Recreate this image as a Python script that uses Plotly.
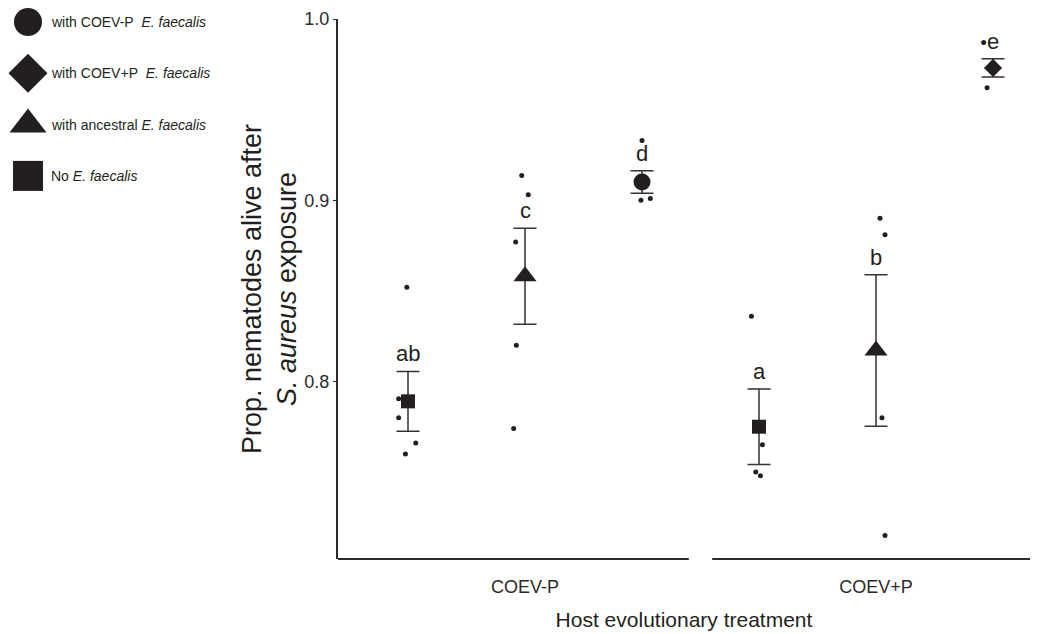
import plotly.graph_objects as go

# ---- data -----------------------------------------------------------------
HOSTS = ["COEV-P", "COEV+P"]
GROUP_HOST = ["COEV-P", "COEV-P", "COEV-P", "COEV+P", "COEV+P", "COEV+P"]
GROUP_PARTNER = ["none", "ancestral", "COEV-P", "none", "ancestral", "COEV+P"]
MEANS = [0.789, 0.858, 0.910, 0.775, 0.817, 0.973]
SES = [0.0165, 0.0265, 0.0062, 0.0208, 0.0418, 0.0050]
LETTERS = ["ab", "c", "d", "a", "b", "e"]
REPLICATES = [
    [0.852, 0.7905, 0.780, 0.766, 0.760],
    [0.9136, 0.903, 0.877, 0.820, 0.774],
    [0.933, 0.900, 0.901],
    [0.836, 0.765, 0.750, 0.748],
    [0.890, 0.881, 0.780, 0.715],
    [0.987, 0.962],
]
# horizontal jitter of the replicate dots (category units)
JITTER = [
    [-0.01, -0.08, -0.08, 0.066, -0.022],
    [-0.028, 0.028, -0.08, -0.074, -0.097],
    [0.0, -0.009, 0.071],
    [-0.065, 0.029, -0.028, 0.012],
    [0.034, 0.077, 0.051, 0.077],
    [-0.08, -0.051],
]
Y_TICKS = [0.8, 0.9, 1.0]
Y_TICK_TEXT = ["0.8", "0.9", "1.0"]

LEGEND_PARTNERS = ["COEV-P", "COEV+P", "ancestral", "none"]
LEGEND_LABELS = [
    "with COEV-P&nbsp; <i>E. faecalis</i>",
    "with COEV+P&nbsp; <i>E. faecalis</i>",
    "with ancestral <i>E. faecalis</i>",
    "No <i>E. faecalis</i>",
]

# ---- styles -----------------------------------------------------------------
INK = "#231f20"
AXIS = "#2b2b2b"
FONT = "Liberation Sans, Arial, Helvetica, sans-serif"
SYMBOL = {"none": "square", "ancestral": "triangle-up",
          "COEV-P": "circle", "COEV+P": "diamond"}
PLOT_SIZE = {"none": 14, "ancestral": 20, "COEV-P": 17, "COEV+P": 14}
LEGEND_SIZE = {"none": 30, "ancestral": 32, "COEV-P": 28, "COEV+P": 30}

W, H = 1051, 634
M_L, M_R, M_T, M_B = 0, 21, 0, 75
PW, PH = W - M_L - M_R, H - M_T - M_B
AX_LEFT_PX = 338
AX_TOP_PX = 19
X_RANGE = [0.4017, 6.316]
Y_RANGE = [0.702, 1.0]
BREAK_AT, BREAK_HALF = 3.5, 0.1

# x position of each group: host block * 3 + slot inside the block
positions = []
slot_count = {h: 0 for h in HOSTS}
for h in GROUP_HOST:
    slot_count[h] += 1
    positions.append(HOSTS.index(h) * 3 + slot_count[h])

fig = go.Figure()

# means with standard-error bars
for i, partner in enumerate(GROUP_PARTNER):
    fig.add_trace(go.Scatter(
        x=[positions[i]], y=[MEANS[i]], mode="markers",
        marker=dict(symbol=SYMBOL[partner], size=PLOT_SIZE[partner],
                    color=INK, line=dict(width=0)),
        error_y=dict(type="data", array=[SES[i]], color="#333333",
                     thickness=1.5, width=11.5),
        showlegend=False, hoverinfo="skip", xaxis="x", yaxis="y",
    ))

# individual replicate populations
for i, reps in enumerate(REPLICATES):
    fig.add_trace(go.Scatter(
        x=[positions[i] + j for j in JITTER[i]], y=reps, mode="markers",
        marker=dict(symbol="circle", size=5, color=INK),
        showlegend=False, hoverinfo="skip", xaxis="x", yaxis="y",
    ))

# significance letters above each error bar
annotations = []
for i, letter in enumerate(LETTERS):
    annotations.append(dict(
        x=positions[i], y=MEANS[i] + SES[i], xref="x", yref="y",
        text=letter, showarrow=False, yanchor="bottom", yshift=3,
        font=dict(family=FONT, size=22, color=INK),
    ))

# hand-built key in the top-left corner
LEG_X, LEG_Y0, LEG_DY, LEG_TX = 28, 22, 51.3, 49
for k, partner in enumerate(LEGEND_PARTNERS):
    fig.add_trace(go.Scatter(
        x=[LEG_X], y=[LEG_Y0 + k * LEG_DY], mode="markers",
        marker=dict(symbol=SYMBOL[partner], size=LEGEND_SIZE[partner],
                    color=INK, line=dict(width=0)),
        showlegend=False, hoverinfo="skip", xaxis="x2", yaxis="y2",
    ))
    annotations.append(dict(
        x=LEG_TX, y=LEG_Y0 + k * LEG_DY, xref="x2", yref="y2",
        text=LEGEND_LABELS[k], showarrow=False, xanchor="left",
        font=dict(family=FONT, size=14, color=INK),
    ))

# broken baseline: one segment per host treatment
shapes = [
    dict(type="line", xref="x", yref="y domain",
         x0=X_RANGE[0], x1=BREAK_AT - BREAK_HALF, y0=0, y1=0,
         line=dict(color=AXIS, width=2)),
    dict(type="line", xref="x", yref="y domain",
         x0=BREAK_AT + BREAK_HALF, x1=X_RANGE[1], y0=0, y1=0,
         line=dict(color=AXIS, width=2)),
]

fig.update_layout(
    width=W, height=H,
    margin=dict(l=M_L, r=M_R, t=M_T, b=M_B, autoexpand=False),
    paper_bgcolor="white", plot_bgcolor="white",
    font=dict(family=FONT, color=INK),
    showlegend=False,
    xaxis=dict(
        domain=[AX_LEFT_PX / PW, 1], range=X_RANGE, automargin=False,
        tickmode="array", tickvals=[2, 5], ticktext=HOSTS,
        ticks="", showline=False, showgrid=False, zeroline=False,
        ticklabelstandoff=15,
        tickfont=dict(family=FONT, size=18, color=AXIS),
        title=dict(text="Host evolutionary treatment", standoff=16,
                   font=dict(family=FONT, size=21, color=INK)),
    ),
    yaxis=dict(
        domain=[0, (PH - AX_TOP_PX) / PH], range=Y_RANGE, automargin=False,
        tickmode="array", tickvals=Y_TICKS, ticktext=Y_TICK_TEXT,
        ticks="outside", ticklen=3, tickwidth=1, tickcolor=AXIS,
        showline=True, linecolor=AXIS, linewidth=2,
        showgrid=False, zeroline=False,
        tickfont=dict(family=FONT, size=18, color=AXIS),
        title=dict(text="Prop. nematodes alive after<br><i>S. aureus</i> exposure",
                   standoff=0, font=dict(family=FONT, size=27, color=INK)),
    ),
    xaxis2=dict(domain=[0, 0.3], range=[0, 0.3 * PW], visible=False,
                anchor="y2", automargin=False),
    yaxis2=dict(domain=[0, 1], range=[PH, 0], visible=False, anchor="x2",
                automargin=False),
    annotations=annotations,
    shapes=shapes,
)

fig.write_html("out.html")
